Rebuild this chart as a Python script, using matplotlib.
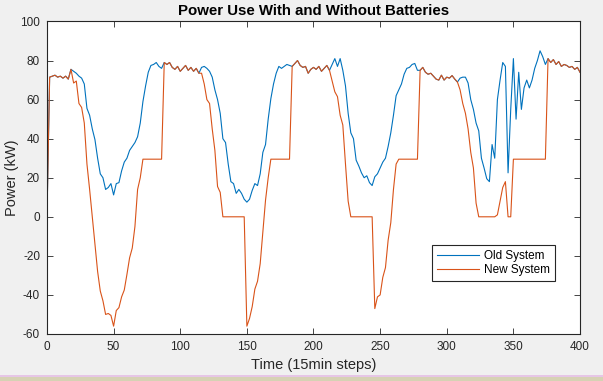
import numpy as np
import matplotlib
matplotlib.use("Agg")
import matplotlib.pyplot as plt
from matplotlib.patches import Rectangle

# time axis, one value every 2 steps (15 min each)
steps = np.arange(0, 401, 2)

# power use of the old system (no batteries), kW
old_system = [
    0, 71.5, 72, 72.5, 71.5, 72, 71, 72, 70.5, 75.5,
    74.5, 73.5, 72, 71, 68, 55.5, 52, 45, 39.5, 30,
    22, 20, 14, 15, 17, 11.2, 17, 17.5, 23.5, 28,
    30, 34, 36, 38, 41, 48, 59, 67, 74, 77.5,
    78, 79, 77, 76, 79, 78, 79, 76.5, 75.5, 77,
    74.5, 76, 77.5, 75, 76.5, 74.5, 76, 73.5, 76.5, 77,
    76, 74.5, 71.5, 65, 60, 53, 40, 38, 27, 18,
    17, 12, 14, 12, 9, 7.5, 9, 13.5, 17, 16,
    22, 33, 37, 50, 60.5, 68, 73.5, 77, 76, 77,
    78, 77.5, 77, 78.5, 80, 77.5, 76.5, 77, 73.5, 75.5,
    76.5, 75.5, 77, 74.5, 76, 77.5, 75, 78, 81, 77,
    81, 75, 67, 53, 43, 40, 29, 26, 22.5, 20,
    21, 17.5, 16, 20.5, 22, 25, 28, 30, 36, 43,
    52, 62, 65, 68, 73, 76, 76.5, 78, 78.5, 75,
    75, 76.5, 74, 73, 73.5, 72, 70.5, 70, 72.5, 70,
    71.5, 71, 72.3, 70.5, 69, 71, 71.5, 71.5, 68.5, 60,
    55, 48, 44, 30, 25, 19.5, 18, 37, 30, 60,
    70, 79, 77, 22.5, 55, 81, 50, 74, 55, 66,
    70, 66, 70, 76, 80, 85, 82, 78, 81, 79,
    80.5, 78, 79.5, 77, 78, 77.5, 76.5, 77, 75.5, 76.5,
    74,
]

# power use of the new system (with batteries), kW
new_system = [
    0, 71.5, 72, 72.5, 71.5, 72, 71, 72, 70.5, 75.5,
    68.5, 69.5, 58, 56, 48, 27, 14, 0, -14, -28,
    -38, -43, -50, -49.5, -50.5, -56, -48, -46.5, -41, -37.5,
    -29.5, -21, -16, -5, 14, 20, 29.5, 29.5, 29.5, 29.5,
    29.5, 29.5, 29.5, 29.5, 79, 78, 79, 76.5, 75.5, 77,
    74.5, 76, 77.5, 75, 76.5, 74.5, 76, 73.5, 73.5, 68,
    60, 58, 45, 34, 15.5, 12.5, 0, 0, 0, 0,
    0, 0, 0, 0, 0, -56, -52, -46, -37, -33,
    -24, -8, 8.5, 20, 29.5, 29.5, 29.5, 29.5, 29.5, 29.5,
    29.5, 29.5, 77, 78.5, 80, 77.5, 76.5, 77, 73.5, 75.5,
    76.5, 75.5, 77, 74.5, 76, 77.5, 75, 69.5, 64, 61.5,
    52, 47, 27, 8, 0, 0, 0, 0, 0, 0,
    0, 0, 0, -47, -41, -40, -31, -26, -12, -3,
    14, 27, 29.5, 29.5, 29.5, 29.5, 29.5, 29.5, 29.5, 29.5,
    75, 76.5, 74, 73, 73.5, 72, 70.5, 70, 72.5, 70,
    71.5, 71, 72.3, 70.5, 69, 65, 58, 53, 45, 33,
    25, 7, 0, 0, 0, 0, 0, 0, 0, 1,
    8, 15, 18, 0, 0, 29.5, 29.5, 29.5, 29.5, 29.5,
    29.5, 29.5, 29.5, 29.5, 29.5, 29.5, 29.5, 29.5, 81, 79,
    80.5, 78, 79.5, 77, 78, 77.5, 76.5, 77, 75.5, 76.5,
    74,
]

x_ticks = [0, 50, 100, 150, 200, 250, 300, 350, 400]
y_ticks = [-60, -40, -20, 0, 20, 40, 60, 80, 100]

plt.rcParams['font.family'] = ['Liberation Sans', 'DejaVu Sans']
plt.rcParams['axes.unicode_minus'] = False
dark = '#262626'

fig = plt.figure(figsize=(6.03, 3.81), dpi=100, facecolor='#f0f0f0')
ax = fig.add_axes([0.0779, 0.1234, 0.884, 0.8202])

ax.plot(steps, old_system, color='#0072BD', lw=0.8, label='Old System')
ax.plot(steps, new_system, color='#D95319', lw=0.8, label='New System')

ax.set_xlim(0, 400)
ax.set_ylim(-60, 100)
ax.set_xticks(x_ticks)
ax.set_yticks(y_ticks)
ax.tick_params(direction='in', top=True, right=True, length=4, width=0.6,
               colors=dark, labelsize=8.5, pad=5)
for s in ax.spines.values():
    s.set_color(dark)
    s.set_linewidth(0.8)

ax.set_title('Power Use With and Without Batteries', fontsize=10.8,
             fontweight='bold', color='black', pad=5)
ax.set_xlabel('Time (15min steps)', fontsize=10.5, color=dark, labelpad=4)
ax.set_ylabel('Power (kW)', fontsize=10.5, color=dark, labelpad=1)

leg = ax.legend(loc='lower left', bbox_to_anchor=(0.722, 0.17), fontsize=8.5,
                fancybox=False, framealpha=1, edgecolor=dark, handlelength=3.6,
                borderpad=0.4, labelspacing=0.2, handletextpad=0.4,
                borderaxespad=0)
leg.get_frame().set_linewidth(0.8)

# bottom strip left over from the screenshot
fig.patches.append(Rectangle((0, 0), 1, 4.5 / 381, transform=fig.transFigure,
                             facecolor='#d6d2b4', edgecolor='none'))
fig.patches.append(Rectangle((0, 4.5 / 381), 1, 1.5 / 381, transform=fig.transFigure,
                             facecolor='#e6c6e6', edgecolor='none'))

fig.savefig('out.png', dpi=100, facecolor=fig.get_facecolor())
